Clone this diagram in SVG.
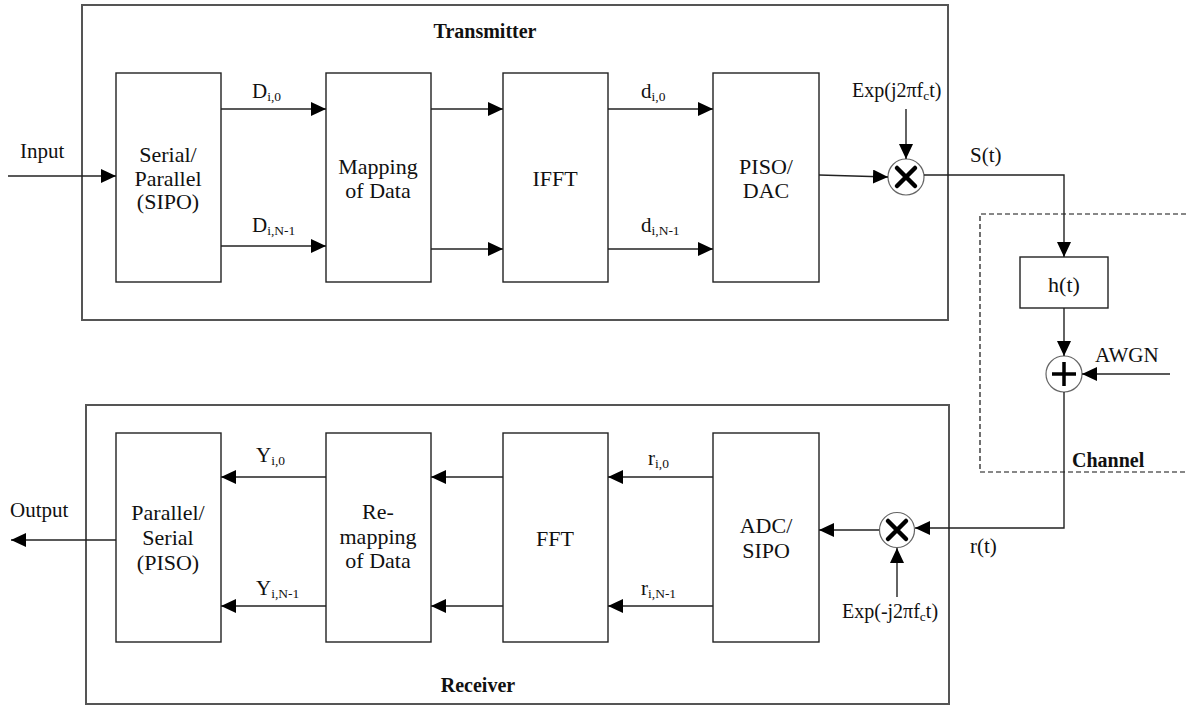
<svg xmlns="http://www.w3.org/2000/svg" width="1186" height="706" viewBox="0 0 1186 706">
<style>
.blk{font-family:"Liberation Serif","Times New Roman",serif;font-size:22px;fill:#111;text-anchor:middle;}
.lbl{font-family:"Liberation Serif","Times New Roman",serif;font-size:21px;fill:#111;}
.exp{font-family:"Liberation Serif","Times New Roman",serif;font-size:20px;fill:#111;}
.ttl{font-family:"Liberation Serif","Times New Roman",serif;font-size:20px;font-weight:bold;fill:#111;}
.sub{font-size:13.5px;}
.outer{fill:none;stroke:#555;stroke-width:2;}
.box{fill:#fff;stroke:#222;stroke-width:1.4;}
.wire{fill:none;stroke:#222;stroke-width:1.4;}
.circ{fill:#fff;stroke:#666;stroke-width:1.2;}
.sym{stroke:#000;stroke-width:4.5;stroke-linecap:round;}
</style>
<defs>
<marker id="ah" markerUnits="userSpaceOnUse" markerWidth="16" markerHeight="14" refX="15" refY="7" orient="auto">
<path d="M0,0 L15,7 L0,14 z" fill="#000"/>
</marker>
</defs>

<g id="transmitter">
<rect class="outer" x="82" y="5" width="866" height="315"/>
<text class="ttl" x="485" y="38" text-anchor="middle">Transmitter</text>
</g>
<g id="receiver">
<rect class="outer" x="86" y="405" width="863" height="299"/>
<text class="ttl" x="478" y="692" text-anchor="middle">Receiver</text>
</g>
<g id="channel">
<path d="M1186,214 H980 V472 H1186" fill="none" stroke="#111" stroke-width="1.2" stroke-dasharray="5,3"/>
<text class="ttl" x="1072" y="467">Channel</text>
</g>

<g id="sipo">
<rect class="box" x="116" y="73" width="105" height="209"/>
<text class="blk" x="168" y="162">Serial/</text>
<text class="blk" x="168" y="186">Parallel</text>
<text class="blk" x="168" y="209">(SIPO)</text>
</g>
<g id="mapping">
<rect class="box" x="326" y="73" width="105" height="209"/>
<text class="blk" x="378" y="174">Mapping</text>
<text class="blk" x="378" y="198">of Data</text>
</g>
<g id="ifft">
<rect class="box" x="503" y="73" width="105" height="209"/>
<text class="blk" x="555" y="186">IFFT</text>
</g>
<g id="pisodac">
<rect class="box" x="713" y="73" width="106" height="209"/>
<text class="blk" x="766" y="174">PISO/</text>
<text class="blk" x="766" y="198">DAC</text>
</g>
<g id="mixer1">
<circle class="circ" cx="906" cy="177" r="18"/>
<path class="sym" d="M897,168 L915,186 M915,168 L897,186"/>
</g>
<g id="ht">
<rect class="box" x="1020" y="257" width="88" height="51"/>
<text class="blk" x="1064" y="292">h(t)</text>
</g>
<g id="adder">
<circle class="circ" cx="1064" cy="374" r="18"/>
<path stroke="#000" stroke-width="3.5" d="M1064,362 V386 M1052,374 H1076"/>
</g>

<g id="ps">
<rect class="box" x="116" y="433" width="105" height="209"/>
<text class="blk" x="168" y="520">Parallel/</text>
<text class="blk" x="168" y="545">Serial</text>
<text class="blk" x="168" y="570">(PISO)</text>
</g>
<g id="remap">
<rect class="box" x="326" y="433" width="105" height="209"/>
<text class="blk" x="378" y="519">Re-</text>
<text class="blk" x="378" y="544">mapping</text>
<text class="blk" x="378" y="568">of Data</text>
</g>
<g id="fft">
<rect class="box" x="503" y="433" width="105" height="209"/>
<text class="blk" x="555" y="546">FFT</text>
</g>
<g id="adcsipo">
<rect class="box" x="713" y="433" width="106" height="209"/>
<text class="blk" x="766" y="533">ADC/</text>
<text class="blk" x="766" y="558">SIPO</text>
</g>
<g id="mixer2">
<circle class="circ" cx="897" cy="530" r="17.5"/>
<path class="sym" d="M888,521 L906,539 M906,521 L888,539"/>
</g>

<g id="connectors">
<line class="wire" x1="8" y1="176" x2="116" y2="176" marker-end="url(#ah)"/>
<line class="wire" x1="221" y1="109" x2="326" y2="109" marker-end="url(#ah)"/>
<line class="wire" x1="221" y1="246" x2="326" y2="246" marker-end="url(#ah)"/>
<line class="wire" x1="431" y1="109" x2="503" y2="109" marker-end="url(#ah)"/>
<line class="wire" x1="431" y1="249" x2="503" y2="249" marker-end="url(#ah)"/>
<line class="wire" x1="608" y1="109" x2="713" y2="109" marker-end="url(#ah)"/>
<line class="wire" x1="608" y1="249" x2="713" y2="249" marker-end="url(#ah)"/>
<line class="wire" x1="819" y1="175" x2="888" y2="177" marker-end="url(#ah)"/>
<line class="wire" x1="906" y1="109" x2="906" y2="159" marker-end="url(#ah)"/>
<path class="wire" d="M924,175 H1064 V257" marker-end="url(#ah)"/>
<line class="wire" x1="1064" y1="308" x2="1064" y2="356" marker-end="url(#ah)"/>
<line class="wire" x1="1170" y1="374" x2="1082" y2="374" marker-end="url(#ah)"/>
<path class="wire" d="M1064,392 V528 H915" marker-end="url(#ah)"/>
<line class="wire" x1="897" y1="597" x2="897" y2="548" marker-end="url(#ah)"/>
<line class="wire" x1="879" y1="530" x2="819" y2="530" marker-end="url(#ah)"/>
<line class="wire" x1="713" y1="477" x2="608" y2="477" marker-end="url(#ah)"/>
<line class="wire" x1="713" y1="606" x2="608" y2="606" marker-end="url(#ah)"/>
<line class="wire" x1="503" y1="477" x2="431" y2="477" marker-end="url(#ah)"/>
<line class="wire" x1="503" y1="606" x2="431" y2="606" marker-end="url(#ah)"/>
<line class="wire" x1="326" y1="477" x2="221" y2="477" marker-end="url(#ah)"/>
<line class="wire" x1="326" y1="606" x2="221" y2="606" marker-end="url(#ah)"/>
<line class="wire" x1="116" y1="540" x2="11" y2="540" marker-end="url(#ah)"/>
</g>

<g id="labels">
<text class="lbl" x="20" y="158">Input</text>
<text class="lbl" x="10" y="517">Output</text>
<text class="lbl" x="252" y="98">D<tspan class="sub" dy="3">i,0</tspan></text>
<text class="lbl" x="252" y="232">D<tspan class="sub" dy="3">i,N-1</tspan></text>
<text class="lbl" x="641" y="98">d<tspan class="sub" dy="3">i,0</tspan></text>
<text class="lbl" x="641" y="232">d<tspan class="sub" dy="3">i,N-1</tspan></text>
<text class="lbl" x="256" y="462">Y<tspan class="sub" dy="3">i,0</tspan></text>
<text class="lbl" x="256" y="595">Y<tspan class="sub" dy="3">i,N-1</tspan></text>
<text class="lbl" x="648" y="465">r<tspan class="sub" dy="3">i,0</tspan></text>
<text class="lbl" x="641" y="595">r<tspan class="sub" dy="3">i,N-1</tspan></text>
<text class="exp" x="852" y="97">Exp(j2πf<tspan class="sub" dy="3">c</tspan><tspan dy="-3">t)</tspan></text>
<text class="exp" x="842" y="618">Exp(-j2πf<tspan class="sub" dy="3">c</tspan><tspan dy="-3">t)</tspan></text>
<text class="lbl" x="970" y="162">S(t)</text>
<text class="lbl" x="970" y="553">r(t)</text>
<text class="lbl" x="1095" y="362">AWGN</text>
</g>
</svg>
